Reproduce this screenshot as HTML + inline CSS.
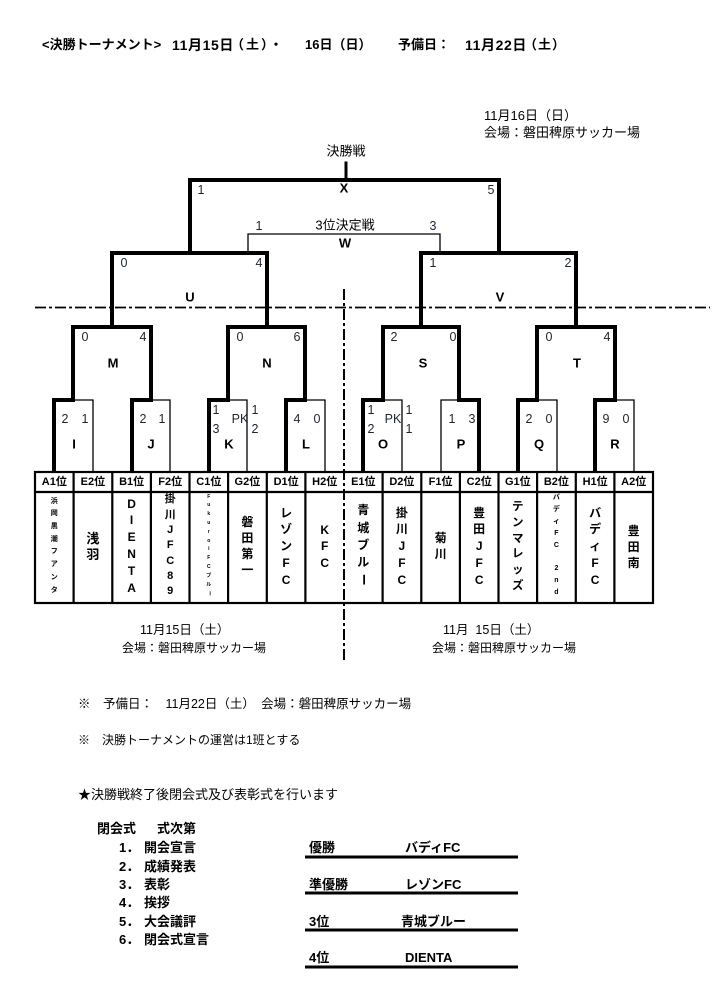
<!DOCTYPE html>
<html><head><meta charset="utf-8">
<style>
html,body{margin:0;padding:0;background:#fff;}
#c{position:relative;width:727px;height:1008px;overflow:hidden;font-family:"Liberation Sans","Noto Sans CJK JP",sans-serif;color:#000;}
svg{position:absolute;left:0;top:0;}
svg text{font-family:"Liberation Sans","Noto Sans CJK JP",sans-serif;}
.col{position:absolute;width:38.6px;text-align:center;font-weight:bold;}
.r{display:inline-block;transform:rotate(90deg);}
.t{position:absolute;white-space:nowrap;line-height:1;}
</style></head><body><div id="c">
<svg width="727" height="1008" viewBox="0 0 727 1008">
<g fill="none" stroke="#000" stroke-width="4" stroke-linecap="square">
<path d="M346,163 V180" stroke-width="3"/>
<path d="M190,253 V180 H499 V253"/>
<path d="M112,327 V253 H267 V327"/>
<path d="M421,327 V253 H576 V327"/>
<path d="M73,400 V327 H151 V400"/>
<path d="M228,400 V327 H305 V400"/>
<path d="M383,400 V327 H459 V400"/>
<path d="M537,400 V327 H615 V400"/>
<path d="M73,400 H54 V471"/>
<path d="M151,400 H132 V471"/>
<path d="M228,400 H209 V471"/>
<path d="M305,400 H286 V471"/>
<path d="M383,400 H363 V471"/>
<path d="M459,400 H479 V471"/>
<path d="M537,400 H518 V471"/>
<path d="M615,400 H595 V471"/>
</g>
<g fill="none" stroke="#000" stroke-width="1.3">
<path d="M248,253 V234 H440 V253"/>
<path d="M73,400 H93 V472"/>
<path d="M151,400 H170 V472"/>
<path d="M228,400 H247 V472"/>
<path d="M305,400 H325 V472"/>
<path d="M383,400 H402 V472"/>
<path d="M459,400 H441 V472"/>
<path d="M537,400 H557 V472"/>
<path d="M615,400 H634 V472"/>
</g>
<g fill="none" stroke="#000" stroke-width="2.2">
<rect x="35" y="472" width="618" height="131"/>
<line x1="35" y1="492" x2="653" y2="492"/>
<line x1="73.6" y1="472" x2="73.6" y2="603"/>
<line x1="112.3" y1="472" x2="112.3" y2="603"/>
<line x1="150.9" y1="472" x2="150.9" y2="603"/>
<line x1="189.5" y1="472" x2="189.5" y2="603"/>
<line x1="228.1" y1="472" x2="228.1" y2="603"/>
<line x1="266.8" y1="472" x2="266.8" y2="603"/>
<line x1="305.4" y1="472" x2="305.4" y2="603"/>
<line x1="382.6" y1="472" x2="382.6" y2="603"/>
<line x1="421.3" y1="472" x2="421.3" y2="603"/>
<line x1="459.9" y1="472" x2="459.9" y2="603"/>
<line x1="498.5" y1="472" x2="498.5" y2="603"/>
<line x1="537.1" y1="472" x2="537.1" y2="603"/>
<line x1="575.8" y1="472" x2="575.8" y2="603"/>
<line x1="614.4" y1="472" x2="614.4" y2="603"/>
</g>
<line x1="344" y1="289" x2="344" y2="660" stroke="#000" stroke-width="2" stroke-dasharray="11 3 3 3"/>
<line x1="35" y1="307.5" x2="710" y2="307.5" stroke="#000" stroke-width="1.8" stroke-dasharray="11 3 3 3"/>
<g stroke="#000" stroke-width="3">
<line x1="305" y1="857" x2="518" y2="857"/>
<line x1="305" y1="893" x2="518" y2="893"/>
<line x1="305" y1="930" x2="518" y2="930"/>
<line x1="305" y1="967" x2="518" y2="967"/>
</g>
<g font-size="13" text-anchor="middle" dominant-baseline="central" fill="#000">
<text x="346" y="151">決勝戦</text>
<text x="345" y="225">3位決定戦</text>
</g>
<g font-size="13" font-weight="bold" text-anchor="middle" dominant-baseline="central" fill="#000">
<text x="344" y="188">X</text>
<text x="345" y="243">W</text>
<text x="190" y="297">U</text>
<text x="500" y="297">V</text>
<text x="113" y="363">M</text>
<text x="267" y="363">N</text>
<text x="423" y="363">S</text>
<text x="577" y="363">T</text>
<text x="74" y="444">I</text>
<text x="151" y="444">J</text>
<text x="229" y="444">K</text>
<text x="306" y="444">L</text>
<text x="383" y="444">O</text>
<text x="461" y="444">P</text>
<text x="539" y="444">Q</text>
<text x="615" y="444">R</text>
</g>
<g font-size="12.5" text-anchor="middle" dominant-baseline="central" fill="#1c2433">
<text x="201" y="190">1</text><text x="491" y="190">5</text>
<text x="259" y="226">1</text><text x="433" y="226">3</text>
<text x="124" y="263">0</text><text x="259" y="263">4</text>
<text x="433" y="263">1</text><text x="568" y="263">2</text>
<text x="85" y="337">0</text><text x="143" y="337">4</text>
<text x="240" y="337">0</text><text x="297" y="337">6</text>
<text x="394" y="337">2</text><text x="453" y="337">0</text>
<text x="549" y="337">0</text><text x="607" y="337">4</text>
<text x="65" y="419">2</text><text x="85" y="419">1</text>
<text x="143" y="419">2</text><text x="162" y="419">1</text>
<text x="216" y="410">1</text><text x="216" y="429">3</text>
<text x="240" y="419">PK</text>
<text x="255" y="410">1</text><text x="255" y="429">2</text>
<text x="297" y="419">4</text><text x="317" y="419">0</text>
<text x="371" y="410">1</text><text x="371" y="429">2</text>
<text x="393" y="419">PK</text>
<text x="409" y="410">1</text><text x="409" y="429">1</text>
<text x="452" y="419">1</text><text x="472" y="419">3</text>
<text x="529" y="419">2</text><text x="549" y="419">0</text>
<text x="606" y="419">9</text><text x="626" y="419">0</text>
</g>
<g font-size="11" font-weight="bold" text-anchor="middle" dominant-baseline="central" fill="#000">
<text x="54.3" y="482">A1位</text>
<text x="92.9" y="482">E2位</text>
<text x="131.6" y="482">B1位</text>
<text x="170.2" y="482">F2位</text>
<text x="208.8" y="482">C1位</text>
<text x="247.4" y="482">G2位</text>
<text x="286.1" y="482">D1位</text>
<text x="324.7" y="482">H2位</text>
<text x="363.3" y="482">E1位</text>
<text x="401.9" y="482">D2位</text>
<text x="440.6" y="482">F1位</text>
<text x="479.2" y="482">C2位</text>
<text x="517.8" y="482">G1位</text>
<text x="556.4" y="482">B2位</text>
<text x="595.1" y="482">H1位</text>
<text x="633.7" y="482">A2位</text>
</g>
</svg>

<div class="col" style="left:35px;top:495.6px;font-size:7px;line-height:12.7px;">浜<br>岡<br>黒<br>潮<br>フ<br>ア<br>ン<br>タ</div>
<div class="col" style="left:73.6px;top:531.2px;font-size:13px;line-height:15.5px;">浅<br>羽</div>
<div class="col" style="left:112.3px;top:495.6px;font-size:12px;line-height:16.8px;">D<br>I<br>E<br>N<br>T<br>A</div>
<div class="col" style="left:150.9px;top:492.4px;font-size:11px;line-height:15.3px;">掛<br>川<br>J<br>F<br>C<br>8<br>9</div>
<div class="col" style="left:189.5px;top:492.6px;font-size:5px;line-height:8.8px;">F<br>u<br>k<br>u<br>r<br>o<br>i<br>F<br>C<br>ブ<br>ル<br><span class="r">ー</span></div>
<div class="col" style="left:228.1px;top:514px;font-size:12px;line-height:16px;">磐<br>田<br>第<br>一</div>
<div class="col" style="left:266.8px;top:504.6px;font-size:12px;line-height:16.8px;">レ<br>ゾ<br>ン<br>F<br>C</div>
<div class="col" style="left:305.4px;top:521.8px;font-size:12px;line-height:16.5px;">K<br>F<br>C</div>
<div class="col" style="left:344px;top:502.4px;font-size:12px;line-height:17.2px;">青<br>城<br>ブ<br>ル<br><span class="r">ー</span></div>
<div class="col" style="left:382.6px;top:504.6px;font-size:12px;line-height:16.8px;">掛<br>川<br>J<br>F<br>C</div>
<div class="col" style="left:421.3px;top:530px;font-size:12px;line-height:16px;">菊<br>川</div>
<div class="col" style="left:459.9px;top:504.6px;font-size:12px;line-height:16.8px;">豊<br>田<br>J<br>F<br>C</div>
<div class="col" style="left:498.5px;top:500.1px;font-size:11.5px;line-height:15.8px;">テ<br>ン<br>マ<br>レ<br>ッ<br>ズ</div>
<div class="col" style="left:537.1px;top:492px;font-size:7px;line-height:11.9px;">バ<br>デ<br>ィ<br>F<br>C<br>&nbsp;<br>2<br>n<br>d</div>
<div class="col" style="left:575.8px;top:504.6px;font-size:12px;line-height:16.8px;">バ<br>デ<br>ィ<br>F<br>C</div>
<div class="col" style="left:614.4px;top:523px;font-size:12px;line-height:16px;">豊<br>田<br>南</div>

<div class="t" style="left:42px;top:38px;font-size:13px;font-weight:bold;">&lt;決勝トーナメント&gt;</div>
<div class="t" style="left:172px;top:37.5px;font-size:14px;font-weight:bold;letter-spacing:0.6px;">11月15日</div>
<div class="t" style="left:231px;top:38px;font-size:13px;font-weight:bold;letter-spacing:2px;">（土）・</div>
<div class="t" style="left:305px;top:38px;font-size:13px;font-weight:bold;">16日（日）</div>
<div class="t" style="left:398px;top:38px;font-size:13px;font-weight:bold;">予備日：</div>
<div class="t" style="left:465px;top:37.5px;font-size:14px;font-weight:bold;letter-spacing:0.6px;">11月22日</div>
<div class="t" style="left:524px;top:38px;font-size:13px;font-weight:bold;letter-spacing:1px;">（土）</div>

<div class="t" style="left:484px;top:109px;font-size:13px;">11月16日（日）</div>
<div class="t" style="left:484px;top:126px;font-size:13px;">会場：磐田稗原サッカー場</div>

<div class="t" style="left:140px;top:624px;font-size:12.5px;">11月15日（土）</div>
<div class="t" style="left:122px;top:641.5px;font-size:12px;">会場：磐田稗原サッカー場</div>
<div class="t" style="left:443px;top:624px;font-size:12.5px;">11月&nbsp;&nbsp;15日（土）</div>
<div class="t" style="left:432px;top:641.5px;font-size:12px;">会場：磐田稗原サッカー場</div>

<div class="t" style="left:78px;top:697.5px;font-size:12.5px;">※　予備日：　11月22日（土）　会場：磐田稗原サッカー場</div>
<div class="t" style="left:78px;top:733.5px;font-size:12px;">※　決勝トーナメントの運営は1班とする</div>
<div class="t" style="left:78px;top:787.5px;font-size:13px;">★決勝戦終了後閉会式及び表彰式を行います</div>

<div class="t" style="left:97px;top:822px;font-size:13px;font-weight:bold;">閉会式</div>
<div class="t" style="left:157px;top:822px;font-size:13px;font-weight:bold;">式次第</div>
<div class="t" style="left:119px;top:841px;font-size:13px;font-weight:bold;">1．</div><div class="t" style="left:144px;top:841px;font-size:13px;font-weight:bold;">開会宣言</div>
<div class="t" style="left:119px;top:859.5px;font-size:13px;font-weight:bold;">2．</div><div class="t" style="left:144px;top:859.5px;font-size:13px;font-weight:bold;">成績発表</div>
<div class="t" style="left:119px;top:877.5px;font-size:13px;font-weight:bold;">3．</div><div class="t" style="left:144px;top:877.5px;font-size:13px;font-weight:bold;">表彰</div>
<div class="t" style="left:119px;top:896px;font-size:13px;font-weight:bold;">4．</div><div class="t" style="left:144px;top:896px;font-size:13px;font-weight:bold;">挨拶</div>
<div class="t" style="left:119px;top:914.5px;font-size:13px;font-weight:bold;">5．</div><div class="t" style="left:144px;top:914.5px;font-size:13px;font-weight:bold;">大会議評</div>
<div class="t" style="left:119px;top:933px;font-size:13px;font-weight:bold;">6．</div><div class="t" style="left:144px;top:933px;font-size:13px;font-weight:bold;">閉会式宣言</div>

<div class="t" style="left:309px;top:840.5px;font-size:13px;font-weight:bold;">優勝</div>
<div class="t" style="left:405px;top:840.5px;font-size:13px;font-weight:bold;">バディFC</div>
<div class="t" style="left:309px;top:877.5px;font-size:13px;font-weight:bold;">準優勝</div>
<div class="t" style="left:405px;top:877.5px;font-size:13px;font-weight:bold;">レゾンFC</div>
<div class="t" style="left:309px;top:914.5px;font-size:13px;font-weight:bold;">3位</div>
<div class="t" style="left:401px;top:914.5px;font-size:13px;font-weight:bold;">青城ブルー</div>
<div class="t" style="left:309px;top:950.5px;font-size:13px;font-weight:bold;">4位</div>
<div class="t" style="left:405px;top:950.5px;font-size:13px;font-weight:bold;">DIENTA</div>
</div></body></html>
